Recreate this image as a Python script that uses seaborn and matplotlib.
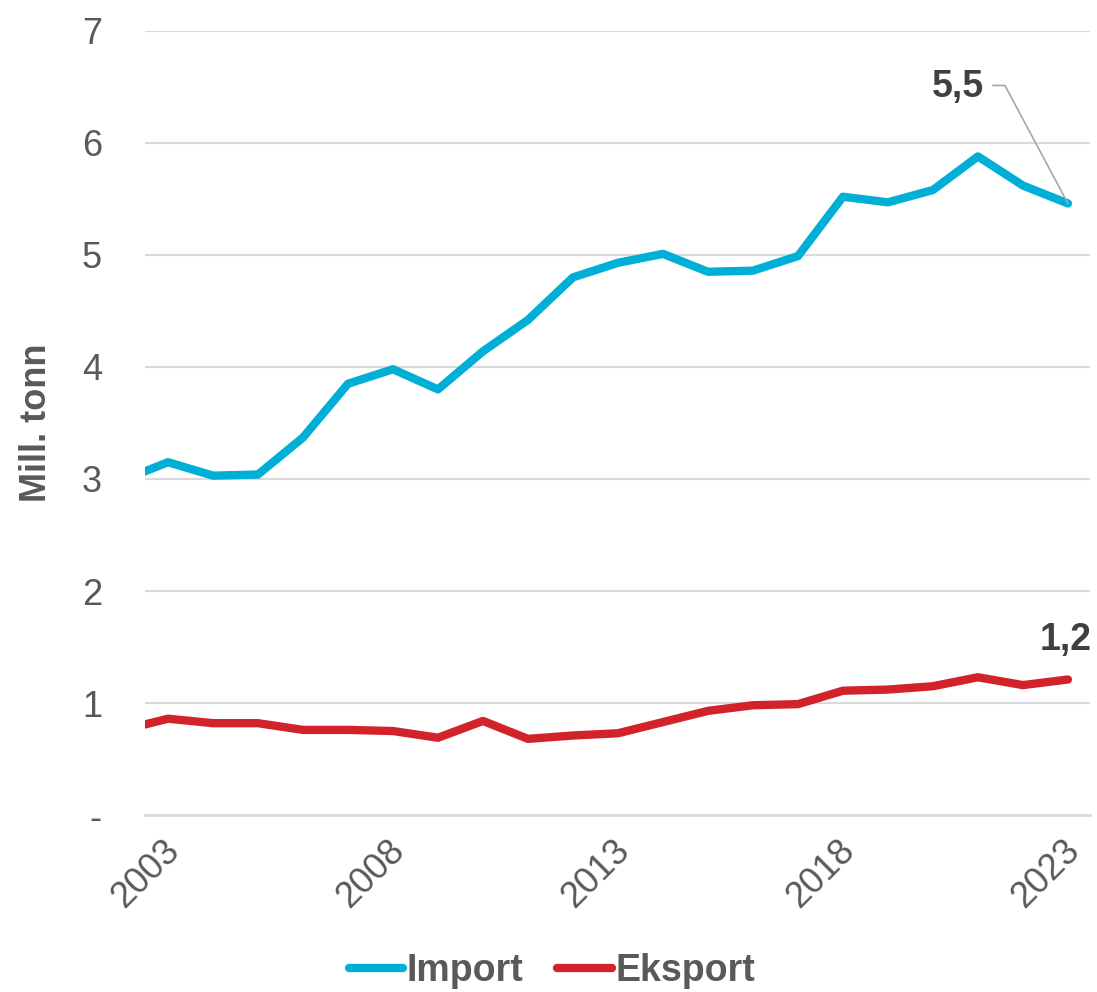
import numpy as np
import pandas as pd
import matplotlib
matplotlib.use("Agg")
import matplotlib.pyplot as plt
from matplotlib.transforms import Affine2D
import seaborn as sns

years = list(range(2002, 2024))
import_vals = [2.99, 3.15, 3.03, 3.04, 3.37, 3.85, 3.98, 3.80, 4.14, 4.42, 4.80,
               4.93, 5.01, 4.85, 4.86, 4.99, 5.52, 5.47, 5.58, 5.88, 5.62, 5.46]
export_vals = [0.76, 0.86, 0.82, 0.82, 0.76, 0.76, 0.75, 0.69, 0.84, 0.68, 0.71,
               0.73, 0.83, 0.93, 0.98, 0.99, 1.11, 1.12, 1.15, 1.23, 1.16, 1.21]
series_names = ["Import", "Eksport"]
tick_labels = ["2003", "2008", "2013", "2018", "2023"]
y_ticks = [0, 1, 2, 3, 4, 5, 6, 7]
y_tick_labels = ["-", "1", "2", "3", "4", "5", "6", "7"]
end_labels = ["5,5", "1,2"]

colors = {"Import": "#00AFD6", "Eksport": "#D2232A"}
TXT = "#595959"

sns.set_theme(style="white")
plt.rcParams["font.family"] = ["Liberation Sans", "DejaVu Sans"]

df = pd.DataFrame({
    "year": years * 2,
    "value": import_vals + export_vals,
    "series": [series_names[0]] * len(years) + [series_names[1]] * len(years),
})

fig = plt.figure(figsize=(10.97, 9.92), dpi=100)
ax = fig.add_axes([0.1322, 0.1784, 0.8614, 0.7904])

for y in y_ticks[1:]:
    ax.axhline(y, color="#D9D9D9", lw=1.5, zorder=0)

sns.lineplot(data=df, x="year", y="value", hue="series", palette=colors,
             linewidth=6, ax=ax, legend=False, zorder=3)
for ln in ax.get_lines()[-2:]:
    ln.set_solid_capstyle("round")
    ln.set_solid_joinstyle("round")

ax.set_xlim(years[0] + 0.49, years[-1] + 0.49)
ax.set_ylim(0, 7)

tick_pos = [int(t) - 0.5 for t in tick_labels]
ax.set_xticks(tick_pos)
ax.set_xticklabels(tick_labels, rotation=45, ha="center", va="top",
                   fontsize=26, color=TXT)
ax.set_yticks(y_ticks)
ax.set_yticklabels(y_tick_labels, fontsize=26, color=TXT)
ax.tick_params(axis="x", length=10, width=1.5, color="#D9D9D9", pad=3, direction="out")
ax.tick_params(axis="y", length=0, pad=31)

for s in ["top", "right", "left"]:
    ax.spines[s].set_visible(False)
ax.spines["bottom"].set_color("#D9D9D9")
ax.spines["bottom"].set_linewidth(2)
ax.spines["bottom"].set_zorder(1)

ax.set_xlabel("")
ax.set_ylabel("Mill. tonn", fontsize=26, fontweight="bold", color=TXT, labelpad=20)

# end labels
x_last = years[-1]
imp_last = import_vals[-1]
exp_last = export_vals[-1]
ax.annotate(end_labels[0], xy=(x_last, imp_last), xytext=(-110, 116),
            textcoords="offset pixels", ha="center", va="center",
            fontsize=27, fontweight="bold", color="#404040")
# leader line (pixel offsets from the last import point)
fig.canvas.draw()
px, py = ax.transData.transform((x_last, imp_last))
leader = Affine2D().translate(px, py)
ax.plot([0, -63, -75], [0, 118, 118], color="#A6A6A6", lw=1.2,
        transform=leader, clip_on=False, zorder=4)
ax.annotate(end_labels[1], xy=(x_last, exp_last), xytext=(-2, 39),
            textcoords="offset pixels", ha="center", va="center",
            fontsize=27, fontweight="bold", color="#404040")

handles = [plt.Line2D([0], [0], color=colors[n], lw=6, solid_capstyle="round")
           for n in series_names]
leg = fig.legend(handles, series_names, loc="center", bbox_to_anchor=(0.503, 0.021),
                 ncol=2, frameon=False, handlelength=1.45, handletextpad=0.1,
                 columnspacing=0.9,
                 prop={"size": 27, "weight": "bold"})
for t in leg.get_texts():
    t.set_color(TXT)

fig.savefig("out.png", dpi=100)
